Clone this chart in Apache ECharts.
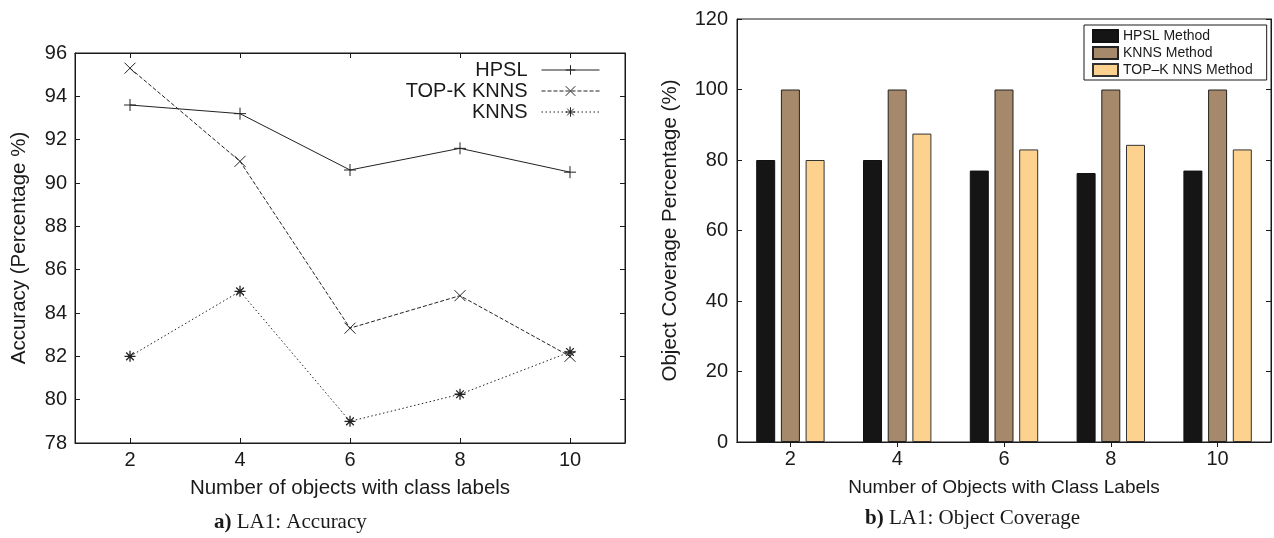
<!DOCTYPE html>
<html>
<head>
<meta charset="utf-8">
<script src="https://cdn.jsdelivr.net/npm/echarts@6/dist/echarts.min.js"></script>
<style>
  html, body { margin: 0; padding: 0; background: #fff; }
  #main { width: 1274px; height: 538px; }
</style>
</head>
<body>
<div id="main"></div>
<script>
// (a) accuracy
var xLabels = ['2', '4', '6', '8', '10']
var hpsl = [93.6, 93.2, 90.6, 91.6, 90.5]
var topkKnns = [95.3, 91.0, 83.3, 84.8, 82.0]
var knns = [82.0, 85.0, 79.0, 80.25, 82.2]

// (b) object coverage
var hpslCover = [80, 80, 77, 76.3, 77]
var knnsCover = [100, 100, 100, 100, 100]
var topkCover = [80, 87.5, 83, 84.3, 83]

var font = 'Liberation Sans'
var ink = '#1a1a1a'

// gnuplot style point marks: +, x and *
var plusSym = 'path://M0,5L10,5M5,0L5,10'
var crossSym = 'path://M0,0L10,10M10,0L0,10'
var starSym = 'path://M0,5L10,5M5,0L5,10M1.5,1.5L8.5,8.5M8.5,1.5L1.5,8.5'

function frameAxis(extra) {
  return Object.assign({
    axisLine: { show: true, lineStyle: { color: ink, width: 1 } },
    axisTick: { show: true, inside: true, length: 5, lineStyle: { color: ink } },
    axisLabel: { show: false },
    splitLine: { show: false }
  }, extra)
}

// one legend per row so the samples line up on the right
function lineLegend(name, top) {
  return {
    data: [name],
    right: 674,
    top: top,
    align: 'right',
    padding: 0,
    itemWidth: 58,
    itemHeight: 12,
    itemGap: 0,
    lineStyle: { width: 1 },
    itemStyle: { borderWidth: 1 },
    textStyle: { fontFamily: font, fontSize: 20, color: ink, padding: [0, 9, 0, 0] }
  }
}

var chart = echarts.init(document.getElementById('main'))
chart.setOption({
  animation: false,
  backgroundColor: '#fff',
  grid: [
    { left: 75, right: 649, top: 53, bottom: 95, show: true, borderColor: ink, borderWidth: 1 },
    { left: 737, right: 3, top: 19, bottom: 96, show: true, borderColor: ink, borderWidth: 1 }
  ],
  legend: [
    lineLegend('HPSL', 60),
    lineLegend('TOP-K KNNS', 81),
    lineLegend('KNNS', 102),
    {
      data: ['HPSL Method', 'KNNS Method', 'TOP\u2013K NNS Method'],
      orient: 'vertical',
      left: 1084,
      top: 25,
      icon: 'rect',
      itemWidth: 25,
      itemHeight: 12,
      itemGap: 1,
      padding: [3, 14, 2, 8],
      borderColor: ink,
      borderWidth: 1,
      textStyle: { fontFamily: font, fontSize: 14, lineHeight: 16, color: ink }
    }
  ],
  xAxis: [
    frameAxis({
      type: 'category', gridIndex: 0, position: 'bottom', data: xLabels,
      axisTick: { show: true, inside: true, length: 5, alignWithLabel: true, lineStyle: { color: ink } },
      axisLabel: { show: true, fontFamily: font, fontSize: 20, color: ink, margin: 7 },
      name: 'Number of objects with class labels', nameLocation: 'middle', nameGap: 35,
      nameTextStyle: { fontFamily: font, fontSize: 20.5, color: ink }
    }),
    frameAxis({
      type: 'category', gridIndex: 0, position: 'top', data: xLabels,
      axisTick: { show: true, inside: true, length: 5, alignWithLabel: true, lineStyle: { color: ink } }
    }),
    frameAxis({
      type: 'category', gridIndex: 1, position: 'bottom', data: xLabels,
      axisTick: { show: false },
      axisLabel: { show: true, fontFamily: font, fontSize: 20, color: ink, margin: 7 },
      name: 'Number of Objects with Class Labels', nameLocation: 'middle', nameGap: 36,
      nameTextStyle: { fontFamily: font, fontSize: 19, color: ink }
    }),
    frameAxis({
      type: 'category', gridIndex: 1, position: 'top', data: xLabels,
      axisTick: { show: true, inside: true, length: 5, alignWithLabel: true, lineStyle: { color: ink } }
    })
  ],
  yAxis: [
    frameAxis({
      type: 'value', gridIndex: 0, position: 'left', min: 78, max: 96, interval: 2,
      axisLabel: { show: true, fontFamily: font, fontSize: 20, color: ink, margin: 8 },
      name: 'Accuracy (Percentage %)', nameLocation: 'middle', nameGap: 45,
      nameTextStyle: { fontFamily: font, fontSize: 20.5, color: ink }
    }),
    frameAxis({ type: 'value', gridIndex: 0, position: 'right', min: 78, max: 96, interval: 2 }),
    frameAxis({
      type: 'value', gridIndex: 1, position: 'left', min: 0, max: 120, interval: 20,
      axisLabel: { show: true, fontFamily: font, fontSize: 20, color: ink, margin: 9 },
      name: 'Object Coverage Percentage (%)', nameLocation: 'middle', nameGap: 56,
      nameTextStyle: { fontFamily: font, fontSize: 20.5, color: ink }
    }),
    frameAxis({ type: 'value', gridIndex: 1, position: 'right', min: 0, max: 120, interval: 20 })
  ],
  series: [
    {
      name: 'HPSL', type: 'line', xAxisIndex: 0, yAxisIndex: 0, data: hpsl,
      symbol: plusSym, symbolSize: 12,
      lineStyle: { color: '#222', width: 1, type: 'solid' },
      itemStyle: { color: 'none', borderColor: '#222', borderWidth: 1 }
    },
    {
      name: 'TOP-K KNNS', type: 'line', xAxisIndex: 0, yAxisIndex: 0, data: topkKnns,
      symbol: crossSym, symbolSize: 11,
      lineStyle: { color: '#222', width: 1, type: [4, 2] },
      itemStyle: { color: 'none', borderColor: '#222', borderWidth: 1 }
    },
    {
      name: 'KNNS', type: 'line', xAxisIndex: 0, yAxisIndex: 0, data: knns,
      symbol: starSym, symbolSize: 11,
      lineStyle: { color: '#222', width: 1, type: [1.5, 2.5] },
      itemStyle: { color: 'none', borderColor: '#222', borderWidth: 1.3 }
    },
    {
      name: 'HPSL Method', type: 'bar', xAxisIndex: 2, yAxisIndex: 2, data: hpslCover,
      barWidth: 19, barGap: '30%',
      itemStyle: { color: '#151515', borderColor: '#111', borderWidth: 1 }
    },
    {
      name: 'KNNS Method', type: 'bar', xAxisIndex: 2, yAxisIndex: 2, data: knnsCover,
      barWidth: 19, barGap: '30%',
      itemStyle: { color: '#a6896b', borderColor: '#222', borderWidth: 1 }
    },
    {
      name: 'TOP\u2013K NNS Method', type: 'bar', xAxisIndex: 2, yAxisIndex: 2, data: topkCover,
      barWidth: 19, barGap: '30%',
      itemStyle: { color: '#fdd18e', borderColor: '#333', borderWidth: 1 }
    }
  ],
  graphic: [
    {
      type: 'text', left: 214, top: 512,
      style: {
        text: '{b|a)} LA1: Accuracy',
        fontFamily: 'Liberation Serif', fontSize: 21, fill: ink,
        rich: { b: { fontFamily: 'Liberation Serif', fontSize: 21, fontWeight: 'bold', fill: ink } }
      }
    },
    {
      type: 'text', left: 865, top: 508,
      style: {
        text: '{b|b)} LA1: Object Coverage',
        fontFamily: 'Liberation Serif', fontSize: 21, fill: ink,
        rich: { b: { fontFamily: 'Liberation Serif', fontSize: 21, fontWeight: 'bold', fill: ink } }
      }
    }
  ]
})
</script>
</body>
</html>
